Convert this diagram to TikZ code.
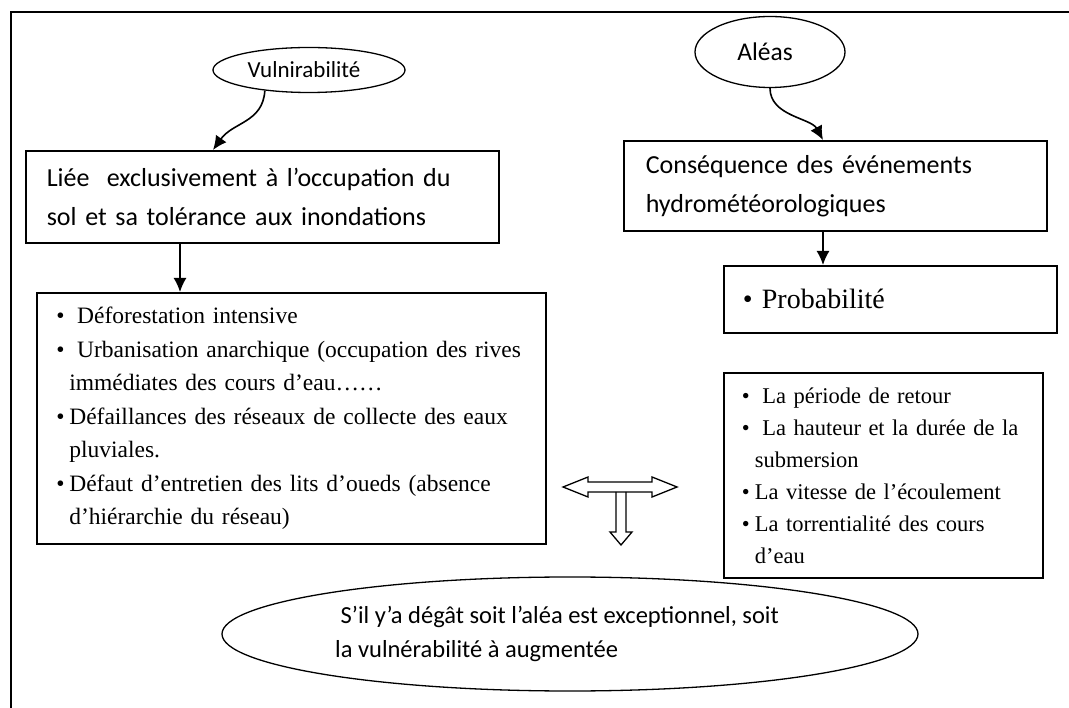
\documentclass[tikz,border=0pt]{standalone}
\usepackage{fontspec}
\setmainfont{Liberation Serif}
\newfontfamily\calibri{Carlito}
\usetikzlibrary{arrows.meta,shapes.geometric}
\newcommand\bul{\makebox[13pt][l]{\textbullet}}
\newcommand\ind{\hspace*{13pt}}

\begin{document}
\begin{tikzpicture}[x=1pt,y=-1pt,
  box/.style={draw,line width=1.6pt,anchor=north west,align=left,inner xsep=0pt,inner ysep=0pt},
  bubble/.style={draw,ellipse,line width=1.3pt,inner sep=0pt},
  flow/.style={-{Latex[length=14pt,width=13pt]},line width=1.6pt},
  hollow/.style={line width=1.3pt,line join=miter}]
  \useasboundingbox (0,0) rectangle (1069,708);
  \draw[line width=2.4pt] (1069,12) -- (11,12) -- (11,708);
  % vulnerabilite
  \node[bubble,minimum width=192pt,minimum height=45pt,font=\calibri\fontsize{23}{27}\selectfont] (vuln) at (309,70) {Vulnirabilité\kern10pt};
  \node[box,minimum width=473pt,minimum height=92pt,text width=431pt,font=\calibri\fontsize{26}{39}\selectfont] (lie) at (25,150)
    {Liée\ \ exclusivement à l’occupation du\\sol et sa tolérance aux inondations};
  \node[box,minimum width=509pt,minimum height=251pt,text width=470pt,font=\fontsize{23.5}{33.5}\selectfont] (causes) at (36,292)
    {\bul\ Déforestation intensive\\
     \bul\ Urbanisation anarchique (occupation des rives\\
     \ind immédiates des cours d’eau……\\
     \bul Défaillances des réseaux de collecte des eaux\\
     \ind pluviales.\\
     \bul Défaut d’entretien des lits d’oueds (absence\\
     \ind d’hiérarchie du réseau)};
  % aleas
  \node[bubble,minimum width=150pt,minimum height=71pt,font=\calibri\fontsize{25.5}{30}\selectfont] (alea) at (770,52) {\raisebox{-6pt}{Aléas}\kern10pt};
  \node[box,minimum width=423pt,minimum height=90pt,text width=379pt,font=\calibri\fontsize{26}{39}\selectfont] (conseq) at (623,140)
    {Conséquence des événements\\hydrométéorologiques};
  \node[box,minimum width=333pt,minimum height=67pt,text width=295pt,font=\fontsize{28}{32}\selectfont] (proba) at (723,265)
    {\textbullet\ Probabilité};
  \node[box,minimum width=319pt,minimum height=205pt,text width=283pt,font=\fontsize{22.5}{32}\selectfont] (facteurs) at (723,372)
    {\bul\ La période de retour\\
     \bul\ La hauteur et la durée de la\\
     \ind submersion\\
     \bul La vitesse de l’écoulement\\
     \bul La torrentialité des cours\\
     \ind d’eau};
  % bilan
  \node[bubble,minimum width=696pt,minimum height=114pt,align=left,font=\calibri\fontsize{24.5}{34}\selectfont] (bilan) at (570,634)
    {\ S’il y’a dégât soit l’aléa est exceptionnel, soit\hspace*{26pt}\\la vulnérabilité à augmentée};
  % liens
  \draw[flow] (vuln.-155) .. controls +(-2,32) and +(20,-28) .. ([xshift=188pt]lie.north west);
  \draw[flow] ([xshift=155pt]lie.south west) -- ([xshift=144pt]causes.north west);
  \draw[flow] (alea.south) .. controls +(0,28) and +(-12,-22) .. ([xshift=200pt]conseq.north west);
  \draw[flow] ([xshift=200pt]conseq.south west) -- ([xshift=100pt]proba.north west);
  \draw[hollow] (563,487) -- (588,477) -- (588,482) -- (652,482) -- (652,477) -- (677,487)
    -- (652,497) -- (652,492) -- (588,492) -- (588,497) -- cycle;
  \draw[hollow] (616,492) -- (616,532) -- (610,532) -- (621,545) -- (632,532) -- (626,532) -- (626,492);
\end{tikzpicture}
\end{document}
